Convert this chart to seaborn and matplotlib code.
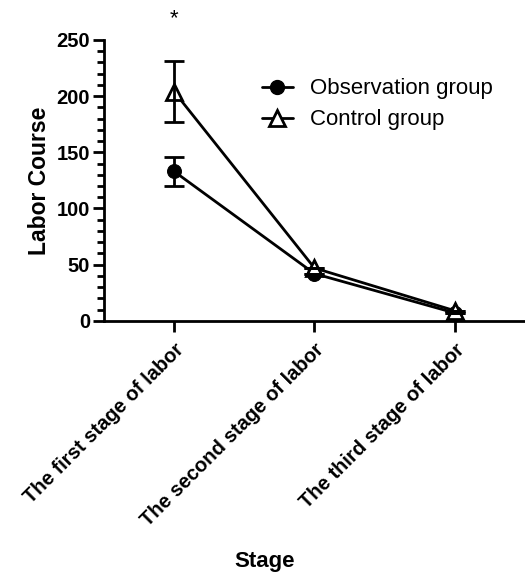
import matplotlib
matplotlib.use("Agg")
import matplotlib.pyplot as plt
import seaborn as sns
import pandas as pd
import numpy as np
from matplotlib.ticker import MultipleLocator
from matplotlib.lines import Line2D

stages = ["The first stage of labor", "The second stage of labor", "The third stage of labor"]
obs_mean = [133, 42, 7]
obs_err = [13, 0, 0]
ctrl_mean = [204, 47, 9]
ctrl_err = [27, 0, 0]
groups = ["Observation group", "Control group"]

sns.set_theme(style="ticks")
plt.rcParams['font.family'] = ['Liberation Sans', 'DejaVu Sans']
plt.rcParams['text.color'] = 'black'
plt.rcParams['xtick.color'] = 'black'
plt.rcParams['ytick.color'] = 'black'
plt.rcParams['axes.labelcolor'] = 'black'

df = pd.DataFrame({
    "pos": list(range(len(stages))) * 2,
    "value": obs_mean + ctrl_mean,
    "group": [groups[0]] * 3 + [groups[1]] * 3,
})

fig = plt.figure(figsize=(5.25, 5.76), dpi=100)
ax = fig.add_axes([0.198, 0.443, 0.802, 0.4876])

lw = 2
sub_o = df[df.group == groups[0]]
sub_c = df[df.group == groups[1]]
sns.lineplot(data=sub_o, x="pos", y="value", ax=ax, color="black", lw=lw,
             marker="o", markersize=10, markerfacecolor="black", markeredgecolor="black", legend=False)
sns.lineplot(data=sub_c, x="pos", y="value", ax=ax, color="black", lw=lw,
             marker="^", markersize=11, markerfacecolor="white", markeredgecolor="black",
             markeredgewidth=2, legend=False)
x = np.arange(len(stages))
ax.errorbar(x, obs_mean, yerr=obs_err, fmt="none", ecolor="black", elinewidth=lw, capsize=7, capthick=lw)
ax.errorbar(x, ctrl_mean, yerr=ctrl_err, fmt="none", ecolor="black", elinewidth=lw, capsize=7, capthick=lw)

ax.set_xlim(-0.5, 2.5)
ax.set_ylim(0, 250)
ax.set_xticks(x)
ax.set_xticklabels(stages, rotation=45, ha="right", rotation_mode="anchor",
                   fontsize=14.5, fontweight="bold")
ax.yaxis.set_major_locator(MultipleLocator(50))
ax.yaxis.set_minor_locator(MultipleLocator(10))
for lab in ax.get_yticklabels():
    lab.set_fontsize(14.5)
    lab.set_fontweight("bold")
ax.tick_params(axis="both", which="major", length=8, width=2, color="black")
ax.tick_params(axis="x", which="major", pad=6)
ax.tick_params(axis="y", which="major", pad=2)
ax.tick_params(axis="y", which="minor", length=5, width=2, color="black")
for s in ["top", "right"]:
    ax.spines[s].set_visible(False)
for s in ["left", "bottom"]:
    ax.spines[s].set_linewidth(2)
    ax.spines[s].set_color("black")

ax.set_ylabel("Labor Course", fontsize=16.5, fontweight="bold", labelpad=4)
ax.set_xlabel("")
fig.text(265 / 525, 1 - 562 / 576, "Stage", ha="center", va="center", fontsize=16, fontweight="bold")
ax.text(0, 260, "*", ha="center", va="bottom", fontsize=16, clip_on=False)

handles = [
    Line2D([], [], color="black", lw=lw, marker="o", markersize=10, markerfacecolor="black"),
    Line2D([], [], color="black", lw=lw, marker="^", markersize=11, markerfacecolor="white", markeredgewidth=2),
]
ax.legend(handles, groups, loc="upper left", bbox_to_anchor=(0.354, 0.895), frameon=False,
          fontsize=16, handlelength=1.4, handletextpad=0.75, labelspacing=0.45, borderaxespad=0)

fig.savefig("out.png", dpi=100)
